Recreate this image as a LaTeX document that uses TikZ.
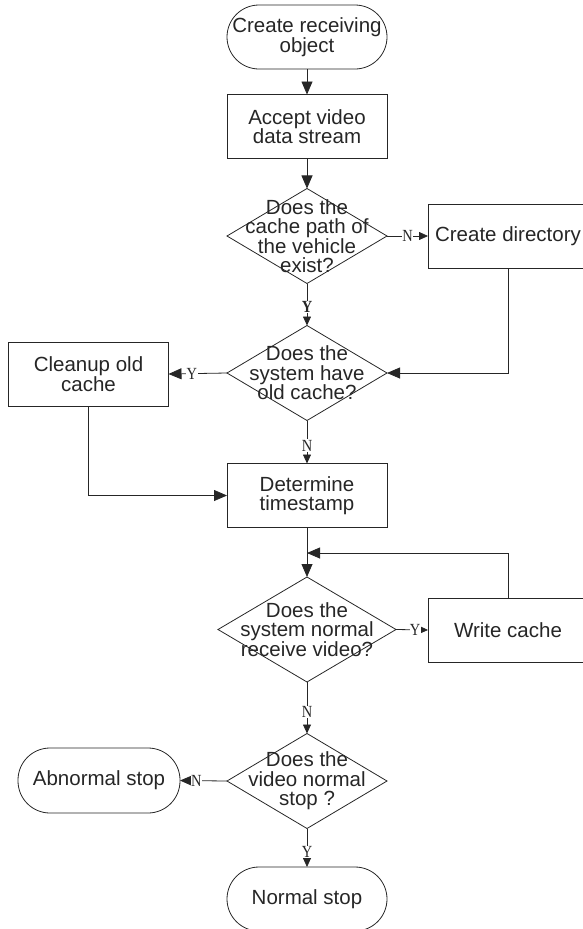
\documentclass[tikz,border=0pt]{standalone}
\usepackage{fontspec}
\setmainfont{Liberation Sans}
\newfontfamily\lblfont{Liberation Serif}
\usetikzlibrary{arrows.meta,shapes.geometric}
\definecolor{ink}{HTML}{262626}
\begin{document}
\begin{tikzpicture}[x=1pt,y=-1pt,
  every node/.style={text=ink},
  base/.style={draw=ink, line width=0.8pt, inner sep=0pt, outer sep=0pt,
    align=center, font=\fontsize{20.5}{19.5}\selectfont},
  term/.style={base, rectangle, rounded corners=32pt, minimum width=160pt, minimum height=64pt},
  proc/.style={base, rectangle, minimum width=160pt, minimum height=64pt},
  dec/.style={base, diamond, minimum width=160pt, minimum height=95pt},
  dtext/.style={inner sep=0pt, align=center, font=\fontsize{20.5}{19.5}\selectfont},
  line/.style={draw=ink, line width=0.8pt},
  arr/.style={line, -{Triangle[length=13pt,width=11pt]}},
  arrs/.style={line, -{Triangle[length=9pt,width=8pt]}},
  lbl/.style={fill=white, inner sep=0.5pt, xscale=0.85, font=\lblfont\fontsize{17}{17}\selectfont}
]
\useasboundingbox (0,0) rectangle (582,929);

% nodes
\node[term] (start) at (307,37) {Create receiving\\object};
\node[proc] (accept) at (307,126.5) {Accept video\\data stream};
\node[dec] (d1) at (307,236) {};
\node[dtext] at (d1) {Does the\\cache path of\\the vehicle\\exist?};
\node[proc] (mkdir) at (508,236) {Create directory};
\node[dec] (d2) at (307,373) {};
\node[dtext] at (d2) {Does the\\system have\\old cache?};
\node[proc] (clean) at (88.5,374) {Cleanup old\\cache};
\node[proc] (ts) at (307,495.5) {Determine\\timestamp};
\node[dec, minimum width=178pt, minimum height=105pt] (d3) at (307,629.5) {};
\node[dtext] at (d3) {Does the\\system normal\\receive video?};
\node[proc] (write) at (508,630) {Write cache};
\node[dec] (d4) at (307,781) {};
\node[dtext] at (d4) {Does the\\video normal\\stop ?};
\node[term, minimum width=162pt, minimum height=65pt] (abn) at (99,780.5) {Abnormal stop};
\node[term] (stop) at (307,899) {Normal stop};
\coordinate (join) at (307,553);

% connectors
\draw[arr] (start) -- (accept);
\draw[arr] (accept) -- (d1);
\draw[arrs] (d1.east) -- node[lbl, pos=0.5] {N} (mkdir.west);
\draw[arrs] (d1.south) -- node[lbl, pos=0.55, font=\lblfont\bfseries\fontsize{17}{17}\selectfont] {Y} (d2.north);
\draw[arr] (mkdir.south) |- (d2.east);
\draw[arr] (d2.west) -- node[lbl, pos=0.6] {Y} (clean.east);
\draw[arr] (clean.south) |- (ts.west);
\draw[arrs] (d2.south) -- node[lbl, pos=0.58] {N} (ts.north);
\draw[arr] (ts.south) -- (d3.north);
\draw[arr] (write.north) |- (join);
\draw[arrs] (d3.east) -- node[lbl, pos=0.6] {Y} (write.west);
\draw[arrs] (d3.south) -- node[lbl, pos=0.58] {N} (d4.north);
\draw[arr] (d4.west) -- node[lbl, pos=0.65] {N} (abn.east);
\draw[arrs] (d4.south) -- node[lbl, pos=0.6] {Y} (stop.north);
\end{tikzpicture}
\end{document}
